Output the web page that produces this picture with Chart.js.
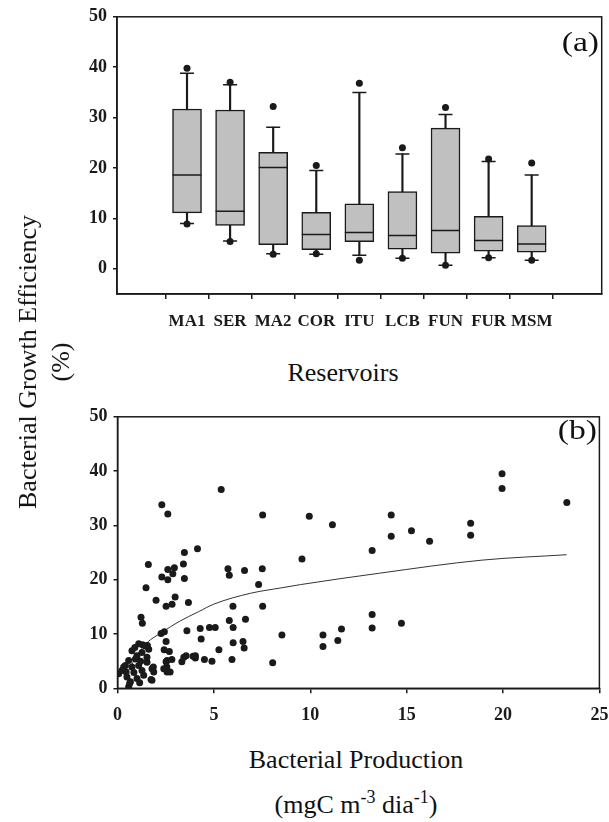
<!DOCTYPE html>
<html>
<head>
<meta charset="utf-8">
<title>Bacterial Growth Efficiency</title>
<script src="https://cdn.jsdelivr.net/npm/chart.js@4.4.1/dist/chart.umd.min.js"></script>
<style>
  html, body { margin: 0; padding: 0; background: #fff; overflow: hidden; }
  body { width: 609px; height: 822px; position: relative;
         font-family: 'Liberation Serif', 'Times New Roman', serif; color: #111; }
  .wrap { position: absolute; left: 0; width: 640px; }
  #wrapA { top: 0; height: 345px; }
  #wrapB { top: 400px; height: 330px; }
  .txt { position: absolute; font-size: 26px; line-height: 1; white-space: nowrap;
         transform: translate(-50%, -50%); }
  .txt sup { font-size: 18px; vertical-align: 10px; line-height: 0; }
  .tag { position: absolute; font-size: 28px; line-height: 1; white-space: nowrap;
         transform: translate(-100%, -50%) scaleX(1.2); transform-origin: 100% 50%; }
  #ytitle { position: absolute; left: 44px; top: 362px; font-size: 26px; line-height: 33px;
            text-align: center; white-space: nowrap;
            transform: translate(-50%, -50%) rotate(-90deg); }
</style>
</head>
<body>
<div class="wrap" id="wrapA"><canvas id="chartA" width="640" height="345"></canvas></div>
<div class="wrap" id="wrapB"><canvas id="chartB" width="640" height="330"></canvas></div>

<div id="ytitle">Bacterial Growth Efficiency<br>(%)</div>
<div class="txt" style="left:343px; top:373px;">Reservoirs</div>
<div class="txt" style="left:356px; top:760px;">Bacterial Production</div>
<div class="txt" style="left:356px; top:805px;">(mgC m<sup>-3</sup> dia<sup>-1</sup>)</div>
<div class="tag" style="left:599px; top:42px;">(a)</div>
<div class="tag" style="left:597px; top:430px;">(b)</div>

<script>
// Painel (a) - box plots por reservatório
const reservoirs = ["MA1", "SER", "MA2", "COR", "ITU", "LCB", "FUN", "FUR", "MSM"];
const whiskLow  = [9.0, 5.5, 3.0, 2.9, 2.7, 2.1, 0.7, 2.2, 1.7];
const q1        = [11.1, 8.6, 4.8, 3.8, 5.4, 3.9, 3.1, 3.5, 3.3];
const median    = [18.6, 11.4, 20.1, 6.8, 7.2, 6.6, 7.6, 5.6, 4.9];
const q3        = [31.7, 31.5, 23.1, 11.2, 12.9, 15.3, 27.9, 10.4, 8.6];
const whiskHigh = [38.8, 36.5, 28.1, 19.5, 35.0, 22.8, 30.6, 21.3, 18.6];
const outLow    = [8.9, 5.4, 2.9, 3.0, 1.7, 2.1, 0.7, 2.2, 1.7];
const outHigh   = [39.8, 37.0, 32.2, 20.5, 36.8, 24.0, 32.0, 21.8, 21.0];
const yTicksA   = [0, 10, 20, 30, 40, 50];

// Painel (b) - BGE vs produção bacteriana
const bpX = [
  5.38, 2.30, 2.61, 7.53, 9.95, 9.57, 4.15, 3.47, 1.60, 3.42, 2.61, 2.95, 2.87, 2.30, 2.61,
  3.47, 5.73, 5.80, 6.59, 7.51, 7.32, 1.48, 2.00, 2.99, 2.52, 2.83, 3.68, 5.99, 7.53, 1.22,
  1.29, 5.80, 6.64, 6.00, 4.29, 4.77, 5.07, 3.60,
  19.95, 19.95, 23.31, 11.15, 14.20, 14.20, 15.25, 16.19, 18.32, 18.32, 13.21, 13.21, 13.21,
  14.73, 11.62, 10.66, 10.66, 11.43, 8.53,
  2.26, 2.43, 4.34, 2.52, 6.00, 6.51, 6.57, 2.42, 2.69, 5.26, 3.56, 4.04, 4.04, 3.34, 2.82,
  2.52, 2.56, 2.73, 4.51, 4.90, 5.94, 8.05, 1.86, 1.74, 3.44, 3.92,
  1.10, 1.45, 1.62, 0.75, 1.01, 1.27, 1.53, 1.53, 2.57, 0.58, 0.41, 0.23, 0.75, 0.93, 1.10,
  1.27, 1.36, 1.79, 1.88, 2.40, 2.57, 0.49, 0.67, 1.01, 1.79, 0.58, 0.06, 0.32, 0.63, 0.85,
  1.15, 0.90, 1.30, 1.55, 0.45, 1.20
];
const bgeY = [
  36.6, 33.8, 32.1, 31.9, 31.7, 23.8, 25.7, 25.0, 22.8, 22.9, 21.9, 22.2, 21.1, 20.5, 20.0,
  20.2, 22.0, 20.8, 21.7, 22.0, 19.1, 18.5, 16.2, 16.8, 15.1, 15.5, 15.8, 15.1, 15.1, 13.1,
  12.0, 12.5, 12.7, 11.2, 11.0, 11.2, 11.2, 10.6,
  39.5, 36.8, 34.2, 30.1, 31.9, 28.0, 29.0, 27.1, 30.4, 28.2, 25.4, 13.6, 11.1,
  12.0, 10.9, 9.8, 7.7, 8.8, 9.8,
  10.1, 10.4, 9.1, 8.6, 8.4, 8.6, 7.4, 7.1, 6.8, 7.1, 6.0, 6.0, 5.6, 4.9, 5.3,
  4.9, 3.9, 3.0, 5.3, 5.0, 5.3, 4.7, 3.9, 1.6, 5.7, 5.9,
  8.2, 7.8, 7.2, 6.9, 6.0, 6.6, 5.7, 4.8, 5.1, 5.1, 4.2, 3.3, 3.9, 5.4, 4.2,
  3.3, 2.4, 3.6, 3.0, 3.6, 3.0, 2.1, 1.2, 1.8, 1.5, 0.3, 2.7, 3.9, 0.9, 2.9,
  1.0, 7.5, 8.0, 7.9, 3.0, 5.0
];
// Curva ajustada, lida ponto a ponto na figura
const fitX = [0.6, 1.0, 1.5, 2.3, 3.2, 4.2, 5.0, 6.9, 8.5, 9.5, 13.6, 18.9, 23.3];
const fitY = [3.5, 6.0, 8.3, 10.3, 12.3, 14.1, 15.5, 17.5, 18.5, 19.1, 21.2, 23.6, 24.6];

const ink = "#1a1a1a";
const serif = "'Liberation Serif', 'Times New Roman', serif";
const tickFont = { family: serif, size: 18, weight: "bold" };
Chart.defaults.font.family = serif;

// Moldura completa em volta da área do gráfico
const frame = {
  id: "frame",
  afterDraw(chart) {
    const { ctx, chartArea: a } = chart;
    ctx.save();
    ctx.strokeStyle = ink;
    ctx.lineWidth = 1.5;
    ctx.strokeRect(a.left, a.top, a.right - a.left, a.bottom - a.top);
    ctx.restore();
  },
};

const axisGrid = (len) => ({
  drawOnChartArea: false,
  drawTicks: true,
  tickLength: len,
  color: ink,
  lineWidth: 1.5,
});
const axisBorder = { display: true, color: ink, width: 1.5 };

const pos = reservoirs.map((_, i) => i + 1);

new Chart(document.getElementById("chartA"), {
  type: "bar",
  data: {
    datasets: [
      {
        type: "bar",
        data: pos.map((x, i) => ({ x, y: [whiskLow[i], whiskHigh[i]] })),
        backgroundColor: ink,
        barThickness: 1.5,
        grouped: false,
        order: 5,
      },
      {
        type: "bar",
        data: pos.map((x, i) => ({ x, y: [q1[i], q3[i]] })),
        backgroundColor: "#c0c0c0",
        borderColor: ink,
        borderWidth: 1.5,
        borderSkipped: false,
        barThickness: 29,
        grouped: false,
        order: 4,
      },
      {
        type: "scatter",
        data: pos.map((x, i) => ({ x, y: median[i] })),
        pointStyle: "line",
        pointRadius: 14.5,
        pointBorderColor: ink,
        pointBorderWidth: 1.5,
        order: 3,
      },
      {
        type: "scatter",
        data: pos.flatMap((x, i) => [{ x, y: whiskLow[i] }, { x, y: whiskHigh[i] }]),
        pointStyle: "line",
        pointRadius: 7,
        pointBorderColor: ink,
        pointBorderWidth: 1.5,
        order: 3,
      },
      {
        type: "scatter",
        data: pos.flatMap((x, i) => [{ x, y: outLow[i] }, { x, y: outHigh[i] }]),
        pointStyle: "circle",
        pointRadius: 3.5,
        pointBackgroundColor: ink,
        pointBorderWidth: 0,
        order: 1,
      },
    ],
  },
  options: {
    responsive: false,
    animation: false,
    layout: { padding: { top: 15, right: 38.3, left: 0, bottom: 0 } },
    plugins: { legend: { display: false }, tooltip: { enabled: false } },
    scales: {
      x: {
        type: "linear",
        min: 0,
        max: 10,
        afterBuildTicks: (s) => { s.ticks = pos.map((v) => ({ value: v })); },
        afterFit: (s) => { s.height = 51; },
        ticks: {
          callback: (v) => reservoirs[v - 1],
          font: { family: serif, size: 17, weight: "bold" },
          color: ink,
          padding: 12,
          maxRotation: 0,
          autoSkip: false,
        },
        grid: axisGrid(5),
        border: axisBorder,
      },
      y: {
        min: -5,
        max: 50,
        afterBuildTicks: (s) => { s.ticks = yTicksA.map((v) => ({ value: v })); },
        afterFit: (s) => { s.width = 117; },
        ticks: { font: tickFont, color: ink, padding: 6 },
        grid: axisGrid(4),
        border: axisBorder,
      },
    },
  },
  plugins: [frame],
});

new Chart(document.getElementById("chartB"), {
  type: "scatter",
  data: {
    datasets: [
      {
        data: bpX.map((x, i) => ({ x, y: bgeY[i] })),
        pointStyle: "circle",
        pointRadius: 3.5,
        pointBackgroundColor: ink,
        pointBorderWidth: 0,
        order: 1,
      },
      {
        data: fitX.map((x, i) => ({ x, y: fitY[i] })),
        showLine: true,
        pointRadius: 0,
        borderColor: "#333",
        borderWidth: 1,
        cubicInterpolationMode: "monotone",
        order: 2,
      },
    ],
  },
  options: {
    responsive: false,
    animation: false,
    layout: { padding: { top: 12, right: 40.6, left: 0, bottom: 0 } },
    plugins: { legend: { display: false }, tooltip: { enabled: false } },
    scales: {
      x: {
        type: "linear",
        min: 0,
        max: 25,
        afterFit: (s) => { s.height = 41.7; },
        ticks: { stepSize: 5, font: tickFont, color: ink, padding: 11, maxRotation: 0 },
        grid: axisGrid(5),
        border: axisBorder,
      },
      y: {
        min: 0,
        max: 50,
        afterFit: (s) => { s.width = 117.5; },
        ticks: { stepSize: 10, font: tickFont, color: ink, padding: 6 },
        grid: axisGrid(4),
        border: axisBorder,
      },
    },
  },
  plugins: [frame],
});
</script>
</body>
</html>
